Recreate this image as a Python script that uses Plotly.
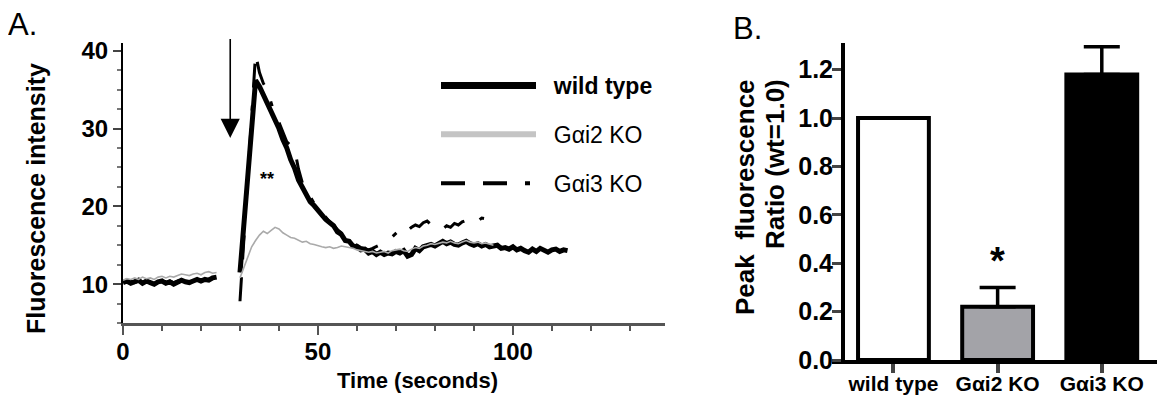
import plotly.graph_objects as go

FONT = "Liberation Sans, Arial, sans-serif"
W, H = 1170, 405
PAGE_OFFSET = 8  # default body margin of the html page


def fx(px):
    return (px - PAGE_OFFSET) / W


def fy(px):
    return 1 - (px - PAGE_OFFSET) / H


# Panel A - time course (seconds, fluorescence intensity)
base_time = list(range(0, 25))
wt_base = [10.2, 10.4, 10.1, 10.3, 10.5, 10.1, 10.4, 10.2, 10.0, 10.3, 10.4, 10.1, 10.3,
           10.0, 10.3, 10.5, 10.3, 10.2, 10.4, 10.6, 10.4, 10.6, 10.5, 10.8, 10.9]
gai2_base = [10.5, 10.7, 10.6, 10.8, 10.6, 10.9, 10.7, 10.8, 10.6, 10.9, 11.0, 10.8, 11.0,
             10.9, 11.1, 11.3, 11.2, 11.1, 11.3, 11.4, 11.2, 11.5, 11.6, 11.4, 11.5]
gai3_base = [10.3, 10.2, 10.4, 10.2, 10.4, 10.3, 10.2, 10.5, 10.1, 10.4, 10.3, 10.2, 10.4,
             10.2, 10.4, 10.4, 10.5, 10.3, 10.5, 10.5, 10.6, 10.5, 10.7, 10.9, 10.8]

wt_time = [30] + list(range(34, 115))
wt_resp = [11.5,
           36.2, 35.4, 34.3, 33.5, 32.1, 31.0, 30.0, 28.6, 27.5, 26.0,
           24.9, 23.4, 22.4, 21.6, 20.6, 20.1, 19.6, 18.9, 18.3, 17.8,
           17.5, 16.7, 16.4, 15.6, 15.5, 14.9, 14.8, 14.4, 14.5, 14.0,
           14.2, 13.8, 14.1, 13.8, 14.0, 13.9, 14.2, 14.0, 14.3, 13.6,
           13.8, 14.6, 14.3, 14.8, 14.9, 15.1, 14.9, 15.2, 15.5, 15.2,
           15.4, 15.1, 15.0, 15.3, 15.5, 15.2, 15.0, 15.2, 14.9, 15.1,
           14.8, 14.9, 15.0, 14.6, 14.7, 14.5, 14.8, 14.4, 14.6, 14.3,
           14.1, 14.5, 14.2, 14.6, 14.3, 14.1, 14.4, 14.5, 14.2, 14.4,
           14.3]

gai2_time = list(range(30, 96))
gai2_resp = [10.8, 12.2, 13.6, 14.8, 15.6, 16.3, 16.8, 16.5, 16.9, 17.3,
             17.1, 16.6, 16.3, 16.0, 15.9, 15.7, 15.4, 15.5, 15.2, 15.1,
             14.9, 14.8, 14.7, 14.8, 14.6, 14.7, 14.9, 14.8, 14.7, 14.6,
             14.4, 14.3, 14.2, 14.1, 14.2, 14.0, 14.1, 14.2, 14.0, 14.3,
             14.4, 14.5, 14.3, 14.2, 14.5, 14.7, 14.6, 14.9, 15.0, 15.2,
             15.1, 15.3, 15.4, 15.3, 15.5, 15.3, 15.2, 15.4, 15.6, 15.4,
             15.3, 15.4, 15.2, 15.3, 15.1, 15.0]

gai3_time = [30] + list(range(34, 95))
gai3_resp = [7.8,
             39.6, 37.2, 35.8, 35.0, 33.4, 31.6, 30.8, 29.5, 28.3, 27.8,
             27.4, 24.8, 23.0, 22.1, 21.2, 20.4, 19.8, 19.2, 18.5, 18.0,
             17.6, 17.0, 16.6, 16.0, 15.7, 15.2, 15.0, 14.7, 14.6, 14.4,
             14.6, 14.8, 15.0, 15.3, 15.6, 16.1, 16.5, 17.0, 17.4, 16.9,
             17.3, 17.6, 17.4, 17.9, 18.1, 17.6, 17.2, 16.9, 17.1, 17.5,
             17.3, 17.8, 17.6, 18.0, 18.2, 17.9, 18.3, 18.1, 18.5, 18.4,
             18.6]

# Panel B - peak fluorescence ratio
groups = ["wild type", "G\u03b1i2 KO", "G\u03b1i3 KO"]
ratio = [1.0, 0.22, 1.18]
ratio_err = [0, 0.08, 0.115]

DASH = "24px,18px,24px,18px,5px,18px"
NB = "\u00a0\u00a0"


def joined(t1, y1, t2, y2):
    # keep the gap between the baseline and the response recordings
    return t1 + [None] + t2, y1 + [None] + y2


fig = go.Figure()

x, y = joined(base_time, gai3_base, gai3_time, gai3_resp)
fig.add_trace(go.Scatter(x=x, y=y, mode="lines", showlegend=False,
                         line=dict(color="black", width=3, dash=DASH)))
x, y = joined(base_time, wt_base, wt_time, wt_resp)
fig.add_trace(go.Scatter(x=x, y=y, mode="lines", showlegend=False,
                         line=dict(color="black", width=5)))
x, y = joined(base_time, gai2_base, gai2_time, gai2_resp)
fig.add_trace(go.Scatter(x=x, y=y, mode="lines", showlegend=False,
                         line=dict(color="#aaaaaa", width=1.6)))

# legend entries (thicker strokes than the traces, as in the figure)
fig.add_trace(go.Scatter(x=[None], y=[None], mode="lines", name=NB + "<b>wild type</b>",
                         legendgroup="a", line=dict(color="black", width=7)))
fig.add_trace(go.Scatter(x=[None], y=[None], mode="lines", name=NB + "G\u03b1i2 KO",
                         legendgroup="b", line=dict(color="#c4c4c4", width=6)))
fig.add_trace(go.Scatter(x=[None], y=[None], mode="lines", name=NB + "G\u03b1i3 KO",
                         legendgroup="c", line=dict(color="black", width=4, dash=DASH)))

fig.add_trace(go.Bar(
    x=groups, y=ratio, width=0.68, xaxis="x2", yaxis="y2", showlegend=False,
    marker=dict(color=["white", "#a3a3a8", "black"], line=dict(color="black", width=4)),
    error_y=dict(type="data", array=ratio_err, arrayminus=[0, 0, 0], symmetric=False,
                 color="black", thickness=3.5, width=18),
))

bold = dict(family=FONT, color="black", weight="bold")

fig.update_layout(
    width=W, height=H,
    margin=dict(l=0, r=0, t=0, b=0),
    paper_bgcolor="white", plot_bgcolor="white",
    font=dict(family=FONT, color="black"),
    xaxis=dict(
        domain=[fx(123), fx(665)], range=[0, 139], anchor="y", automargin=False,
        showgrid=False, zeroline=False, showline=True, linecolor="#555555", linewidth=3,
        dtick=50, ticks="outside", ticklen=9, tickwidth=2, tickcolor="#555555",
        minor=dict(dtick=10, ticks="outside", ticklen=5, tickwidth=2, tickcolor="#555555"),
        tickfont=dict(bold, size=24), ticklabelstandoff=-4,
    ),
    yaxis=dict(
        domain=[fy(323), fy(43)], range=[5, 41], anchor="x", automargin=False,
        showgrid=False, zeroline=False, showline=True, linecolor="black", linewidth=2,
        dtick=10, ticks="outside", ticklen=8, tickwidth=2,
        minor=dict(dtick=2.5, ticks="outside", ticklen=4, tickwidth=1.5, tickcolor="#777777"),
        tickfont=dict(bold, size=24),
    ),
    xaxis2=dict(
        domain=[fx(832), fx(1157)], range=[-0.59, 2.53], anchor="y2", automargin=False,
        showgrid=False, zeroline=False, showline=True, linecolor="black", linewidth=4,
        ticks="outside", ticklen=9, tickwidth=4,
        tickfont=dict(bold, size=21), ticklabelstandoff=-7,
    ),
    yaxis2=dict(
        domain=[fy(360), fy(43)], range=[0, 1.31], anchor="free",
        position=fx(843), automargin=False,
        showgrid=False, zeroline=False, showline=True, linecolor="black", linewidth=4,
        dtick=0.2, tickformat=".1f", ticks="outside", ticklen=9, tickwidth=3,
        tickfont=dict(bold, size=25), ticklabelstandoff=-6,
    ),
    legend=dict(
        x=fx(436), y=fy(64), xanchor="left", yanchor="top",
        traceorder="grouped", tracegroupgap=16, itemwidth=95,
        bgcolor="rgba(0,0,0,0)",
        font=dict(family=FONT, size=23, color="black"),
    ),
    annotations=[
        dict(text="A.", x=fx(6), y=fy(24), xref="paper", yref="paper",
             xanchor="left", yanchor="middle", showarrow=False,
             font=dict(family=FONT, size=31, color="black")),
        dict(text="B.", x=fx(731), y=fy(28), xref="paper", yref="paper",
             xanchor="left", yanchor="middle", showarrow=False,
             font=dict(family=FONT, size=31, color="black")),
        # axis titles
        dict(text="Fluorescence intensity", x=fx(36), y=fy(199), xref="paper", yref="paper",
             xanchor="center", yanchor="middle", textangle=-90, showarrow=False,
             font=dict(bold, size=25)),
        dict(text="Time (seconds)", x=fx(417), y=fy(380), xref="paper", yref="paper",
             xanchor="center", yanchor="middle", showarrow=False, font=dict(bold, size=22)),
        dict(text="Peak\u00a0\u00a0fluorescence", x=fx(745), y=fy(77), xref="paper",
             yref="paper", xanchor="center", yanchor="top", textangle=-90, showarrow=False,
             font=dict(bold, size=26)),
        dict(text="Ratio (wt=1.0)", x=fx(775), y=fy(77), xref="paper",
             yref="paper", xanchor="center", yanchor="top", textangle=-90, showarrow=False,
             font=dict(bold, size=26)),
        # stimulus arrow and significance marks
        dict(text="", x=27.5, y=28.8, xref="x", yref="y", ax=27.5, ay=41.7,
             axref="x", ayref="y", showarrow=True, arrowhead=2, arrowsize=2.4,
             arrowwidth=1.6, arrowcolor="black"),
        dict(text="**", x=37, y=23.5, xref="x", yref="y", showarrow=False,
             font=dict(bold, size=18)),
        dict(text="*", x=1, y=0.41, xref="x2", yref="y2", showarrow=False,
             font=dict(bold, size=38)),
    ],
)

fig.write_html("out.html")
